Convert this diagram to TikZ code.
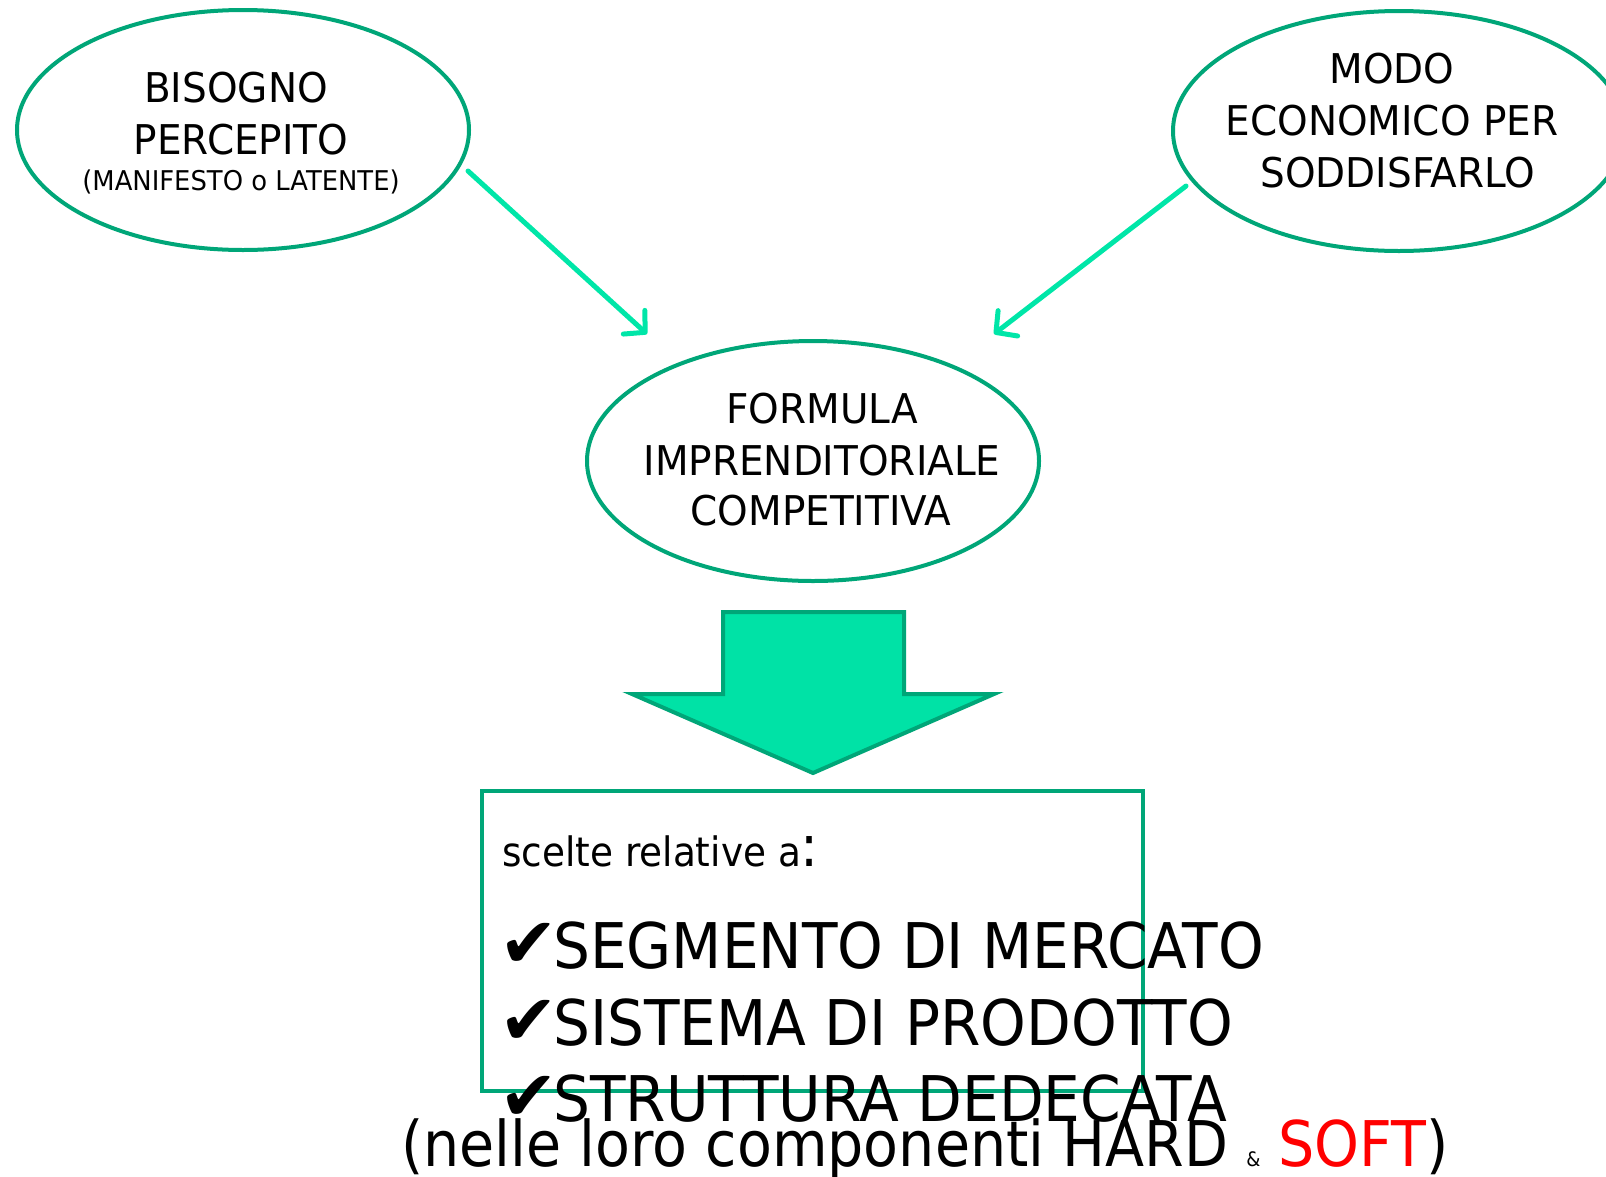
\documentclass[tikz,border=0pt]{standalone}
\usepackage{fontspec}
\setmainfont{DejaVu Sans}
\newfontfamily\ellfont[FakeStretch=0.95]{DejaVu Sans}
\newfontfamily\narfont[FakeStretch=0.923]{DejaVu Sans}
\newfontfamily\notefont[FakeStretch=0.906]{DejaVu Sans}
\newfontfamily\chkfont{DejaVu Sans}
\usetikzlibrary{shapes.geometric,arrows.meta}
\definecolor{edgegreen}{RGB}{0,166,120}
\definecolor{fillgreen}{RGB}{0,226,166}
\definecolor{linkgreen}{RGB}{0,230,168}
\definecolor{softred}{RGB}{255,0,0}
\newcommand{\chk}{\makebox[48pt][l]{\hspace*{-6pt}\raisebox{1pt}{\chkfont\fontsize{70}{70}\selectfont ✔}}}
\begin{document}
\begin{tikzpicture}[x=1pt,y=-1pt,
  oval/.style={ellipse, draw=edgegreen, line width=4pt, fill=white, inner sep=0pt,
    minimum width=452pt, minimum height=240pt},
  lbl/.style={anchor=base, inner sep=0pt, font=\ellfont\fontsize{41}{41}\selectfont},
  smalllbl/.style={anchor=base, inner sep=0pt, font=\ellfont\fontsize{27.2}{27.2}\selectfont},
  link/.style={draw=linkgreen, line width=5pt, line cap=round,
    -{Straight Barb[length=15pt,width=32pt,line cap=round,line join=round]}},
  bigline/.style={anchor=base west, inner sep=0pt, font=\narfont\fontsize{63}{63}\selectfont},
  noteline/.style={anchor=base west, inner sep=0pt, font=\notefont\fontsize{63}{63}\selectfont},
  midline/.style={anchor=base west, inner sep=0pt, font=\narfont\fontsize{40.5}{40.5}\selectfont},
  choicebox/.style={draw=edgegreen, line width=4pt, inner sep=0pt,
    minimum width=661pt, minimum height=300pt}
]
\useasboundingbox (0,0) rectangle (1606,1176);

% ellipses
\node[oval] (need) at (243,130) {};
\node[oval] (mode) at (1399,131) {};
\node[oval] (formula) at (813,461) {};

% ellipse texts
\node[lbl] (n1) at (236,102) {BISOGNO};
\node[lbl] (n2) at (241,154) {PERCEPITO};
\node[smalllbl] (n3) at (241,190) {(MANIFESTO o LATENTE)};

\node[lbl] (m1) at (1392,83) {MODO};
\node[lbl] (m2) at (1392,135) {ECONOMICO PER};
\node[lbl] (m3) at (1398,187) {SODDISFARLO};

\node[lbl] (f1) at (822,423) {FORMULA};
\node[lbl] (f2) at (822,475) {IMPRENDITORIALE};
\node[lbl] (f3) at (821,525) {COMPETITIVA};

% connectors
\coordinate (s1) at (468,171);
\coordinate (t1) at (647,334);
\coordinate (s2) at (1186,186);
\coordinate (t2) at (994,334);
\draw[link] (s1) -- (t1);
\draw[link] (s2) -- (t2);

% block arrow
\draw[fill=fillgreen, draw=edgegreen, line width=4pt, line join=miter]
  (723,612) -- (904,612) -- (904,694) -- (994,694) -- (813,773)
  -- (632,694) -- (723,694) -- cycle;

% choices box
\node[choicebox] (box) at (812.5,941) {};

\node[midline] (sc) at (502,866) {scelte relative a{\fontsize{58}{58}\selectfont:}};
\node[bigline] (c1) at (505,968) {\chk SEGMENTO DI MERCATO};
\node[bigline] (c2) at (505,1045) {\chk SISTEMA DI PRODOTTO};
\node[bigline] (c3) at (505,1121) {\chk STRUTTURA DEDECATA};
\node[noteline] (note) at (401,1166) {(nelle loro componenti HARD {\fontsize{20}{20}\selectfont\&} \textcolor{softred}{SOFT})};
\end{tikzpicture}
\end{document}
